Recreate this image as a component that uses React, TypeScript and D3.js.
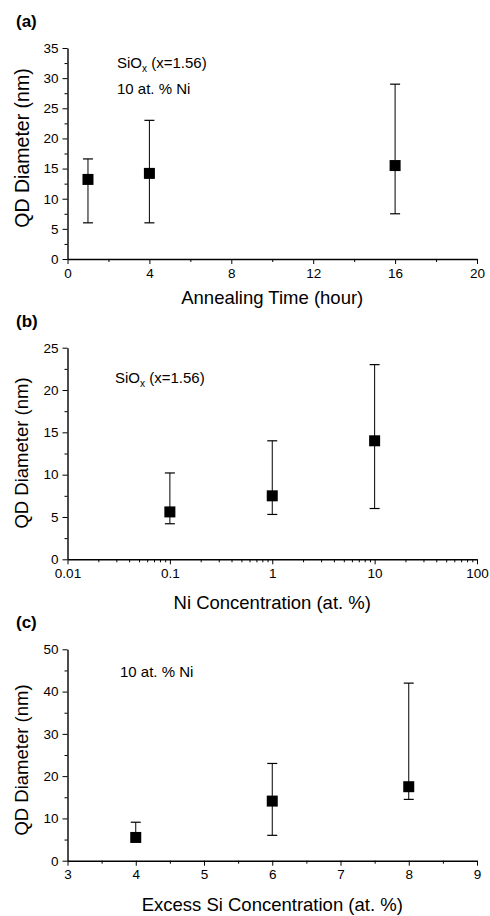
import React, { useEffect, useRef } from 'react';
import * as d3 from 'd3';

// (a) annealing time series
const timeHours = [1, 4, 16];
const timeDiameter = [13.2, 14.2, 15.5];
const timeLow = [6, 6, 7.5];
const timeHigh = [16.6, 23, 29];
const timeTicks = [0, 4, 8, 12, 16, 20];
const timeMinor = [2, 6, 10, 14, 18];

// (b) Ni concentration series
const niConc = [0.1, 1, 10];
const niDiameter = [5.6, 7.5, 14.0];
const niLow = [4.2, 5.3, 6];
const niHigh = [10.2, 14, 23];
const niTicks = [0.01, 0.1, 1, 10, 100];
const niTickLabels = ['0.01', '0.1', '1', '10', '100'];

// (c) excess Si series
const siConc = [4, 6, 8];
const siDiameter = [5.5, 14.1, 17.5];
const siLow = [5, 6, 14.5];
const siHigh = [9.1, 23, 42];
const siTicks = [3, 4, 5, 6, 7, 8, 9];
const siMinor = [3.5, 4.5, 5.5, 6.5, 7.5, 8.5];

const FONT = 'Liberation Sans, Arial, sans-serif';

function drawPanel(svg, p) {
  const left = 67.5, right = 477;
  const x = p.log
    ? d3.scaleLog().domain(p.xDomain).range([left, right])
    : d3.scaleLinear().domain(p.xDomain).range([left, right]);
  const y = d3.scaleLinear().domain(p.yDomain).range([p.bottom, p.top]);

  const g = svg.append('g');

  // minor ticks
  g.append('g')
    .attr('transform', `translate(0,${p.bottom})`)
    .call(d3.axisBottom(x).tickValues(p.xMinor).tickSize(3).tickFormat(() => ''))
    .call(a => a.select('.domain').remove());
  g.append('g')
    .attr('transform', `translate(${left},0)`)
    .call(d3.axisLeft(y).tickValues(p.yMinor).tickSize(3).tickFormat(() => ''))
    .call(a => a.select('.domain').remove());

  // major axes
  const xa = g.append('g')
    .attr('transform', `translate(0,${p.bottom})`)
    .call(d3.axisBottom(x).tickValues(p.xTicks).tickSize(5).tickSizeOuter(0).tickPadding(4)
      .tickFormat((d, i) => p.xLabels ? p.xLabels[i] : String(d)));
  const ya = g.append('g')
    .attr('transform', `translate(${left},0)`)
    .call(d3.axisLeft(y).tickValues(p.yTicks).tickSize(5).tickSizeOuter(0).tickPadding(4));
  [xa, ya].forEach(a => {
    a.selectAll('text').attr('font-family', FONT).attr('font-size', 13.5).attr('fill', '#000');
    a.select('.domain').attr('stroke-width', 1.4);
  });
  g.selectAll('.tick line').attr('stroke', '#000').attr('stroke-width', 1);

  // error bars
  const cap = 5;
  p.xs.forEach((xv, i) => {
    const cx = x(xv);
    g.append('line').attr('x1', cx).attr('x2', cx)
      .attr('y1', y(p.lo[i])).attr('y2', y(p.hi[i]))
      .attr('stroke', '#000').attr('stroke-width', 1);
    [p.lo[i], p.hi[i]].forEach(v => {
      g.append('line').attr('x1', cx - cap).attr('x2', cx + cap)
        .attr('y1', y(v)).attr('y2', y(v))
        .attr('stroke', '#000').attr('stroke-width', 1.2);
    });
  });

  // markers
  const s = 11;
  g.selectAll('rect.pt').data(p.xs).enter().append('rect')
    .attr('class', 'pt')
    .attr('x', d => x(d) - s / 2)
    .attr('y', (d, i) => y(p.ys[i]) - s / 2)
    .attr('width', s).attr('height', s)
    .attr('fill', '#000');

  // panel letter
  g.append('text').attr('x', 16).attr('y', p.letterY)
    .attr('font-family', FONT).attr('font-weight', 'bold').attr('font-size', 17)
    .text(p.letter);

  // axis titles
  g.append('text')
    .attr('transform', `translate(22,${p.yTitleY}) rotate(-90)`)
    .attr('text-anchor', 'middle').attr('dy', '0.35em')
    .attr('font-family', FONT).attr('font-size', p.yTitleSize)
    .text('QD Diameter (nm)');
  g.append('text')
    .attr('x', (left + right) / 2).attr('y', p.xTitleY)
    .attr('text-anchor', 'middle')
    .attr('font-family', FONT).attr('font-size', 18.5)
    .text(p.xTitle);

  // annotations
  p.notes.forEach(n => {
    const t = g.append('text').attr('x', n.x).attr('y', n.y)
      .attr('font-family', FONT).attr('font-size', 15);
    if (n.sio) {
      t.append('tspan').text('SiO');
      t.append('tspan').attr('font-size', 10).attr('dy', 4).text('x');
      t.append('tspan').attr('dy', -4).text(' (x=1.56)');
    } else {
      t.text(n.text);
    }
  });
}

export default function App() {
  const ref = useRef(null);
  useEffect(() => {
    const svg = d3.select(ref.current);
    svg.selectAll('*').remove();
    svg.append('rect').attr('width', 490).attr('height', 916).attr('fill', '#fff');

    const minorLog = [];
    [0.01, 0.1, 1, 10].forEach(dec => {
      for (let k = 2; k <= 9; k++) minorLog.push(dec * k);
    });

    drawPanel(svg, {
      letter: '(a)', letterY: 27,
      top: 48, bottom: 259,
      xDomain: [0, 20], yDomain: [0, 35],
      xTicks: timeTicks, xMinor: timeMinor,
      yTicks: d3.range(0, 36, 5), yMinor: d3.range(2.5, 35, 5),
      xs: timeHours, ys: timeDiameter, lo: timeLow, hi: timeHigh,
      yTitleY: 148, yTitleSize: 19.5,
      xTitle: 'Annealing Time (hour)', xTitleY: 304,
      notes: [{ sio: true, x: 117, y: 68 }, { text: '10 at. % Ni', x: 117, y: 94 }],
    });

    drawPanel(svg, {
      letter: '(b)', letterY: 327, log: true,
      top: 347.7, bottom: 559.3,
      xDomain: [0.01, 100], yDomain: [0, 25],
      xTicks: niTicks, xLabels: niTickLabels, xMinor: minorLog,
      yTicks: d3.range(0, 26, 5), yMinor: d3.range(2.5, 25, 5),
      xs: niConc, ys: niDiameter, lo: niLow, hi: niHigh,
      yTitleY: 453, yTitleSize: 18.5,
      xTitle: 'Ni Concentration (at. %)', xTitleY: 609,
      notes: [{ sio: true, x: 115, y: 383 }],
    });

    drawPanel(svg, {
      letter: '(c)', letterY: 628,
      top: 649.3, bottom: 860.7,
      xDomain: [3, 9], yDomain: [0, 50],
      xTicks: siTicks, xMinor: siMinor,
      yTicks: d3.range(0, 51, 10), yMinor: d3.range(5, 50, 10),
      xs: siConc, ys: siDiameter, lo: siLow, hi: siHigh,
      yTitleY: 760, yTitleSize: 18.5,
      xTitle: 'Excess Si Concentration (at. %)', xTitleY: 911,
      notes: [{ text: '10 at. % Ni', x: 120, y: 677 }],
    });
  }, []);

  return (
    <svg ref={ref} width={490} height={916}
      style={{ position: 'absolute', left: 0, top: 0, display: 'block' }} />
  );
}
